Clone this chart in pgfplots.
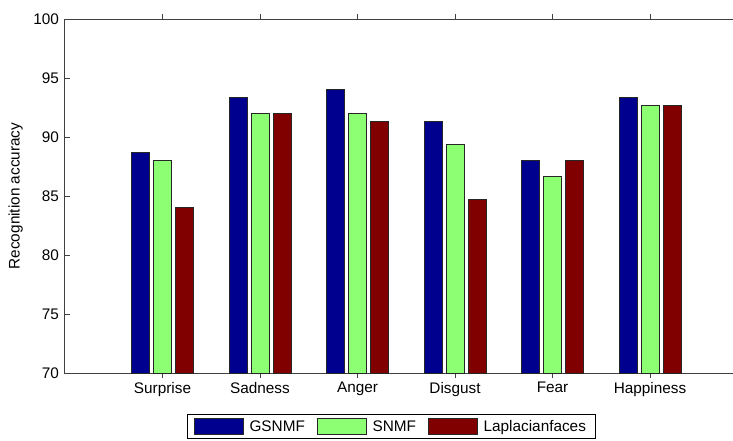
\documentclass[border=0pt]{standalone}
\usepackage{pgfplots}
\pgfplotsset{compat=1.18}
\usepackage{fontspec}
\setmainfont{Liberation Sans}
\definecolor{cblue}{rgb}{0,0,0.5625}
\definecolor{cgreen}{rgb}{0.55,1,0.45}
\definecolor{cred}{rgb}{0.5,0,0}
\begin{document}
\fontsize{11.5}{13}\selectfont
\begin{tikzpicture}
\begin{axis}[
  name=ax,
  scale only axis,
  width=511.9pt, height=265.5pt,
  xmin=0, xmax=7, ymin=70, ymax=100,
  xtick={1,2,3,4,5,6},
  xticklabels={Surprise,Sadness,Anger,Disgust,Fear,Happiness},
  ytick={70,75,80,85,90,95,100},
  /pgf/number format/assume math mode=true,
  tick align=inside,
  major tick length=3.5pt,
  tick style={black!75, line width=0.6pt},
  axis line style={black!75, line width=0.75pt},
  ybar=3pt, bar width=13.5pt,
  ylabel={Recognition accuracy},
  ylabel style={yshift=0pt},
  xticklabel style={yshift=0.5pt},
  yticklabel style={xshift=-0.5pt},
  legend columns=3,
  legend style={at={(0.478,0)}, anchor=north, yshift=-31pt, draw=black, line width=0.75pt,
    inner xsep=5pt, inner ysep=2pt,
    /tikz/every odd column/.append style={column sep=2pt},
    /tikz/every even column/.append style={column sep=7pt}},
  legend image code/.code={\draw[#1, line width=0.75pt] (0pt,-6pt) rectangle (37pt,6pt);},
]
\addplot[fill=cblue, draw=black!85, line width=0.75pt] coordinates {(1,88.67) (2,93.33) (3,94.0) (4,91.33) (5,88.0) (6,93.33)};
\addplot[fill=cgreen, draw=black!85, line width=0.75pt] coordinates {(1,88.0) (2,92.0) (3,92.0) (4,89.33) (5,86.67) (6,92.67)};
\addplot[fill=cred, draw=black!85, line width=0.75pt] coordinates {(1,84.0) (2,92.0) (3,91.33) (4,84.67) (5,88.0) (6,92.67)};
\legend{GSNMF,SNMF,Laplacianfaces}
\end{axis}
\pgfresetboundingbox
\path[use as bounding box] ([xshift=-48.75pt,yshift=-50.25pt]ax.south west) rectangle ++(549.75pt,330pt);
\end{tikzpicture}
\end{document}
